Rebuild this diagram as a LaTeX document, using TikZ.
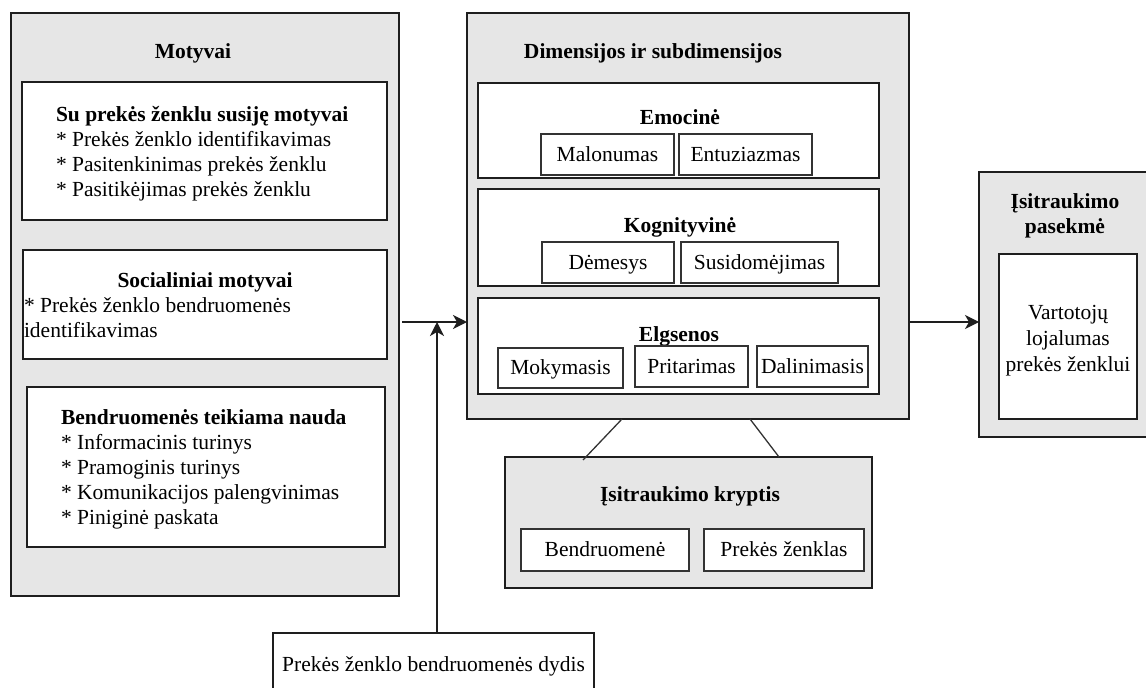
\documentclass[tikz,border=0pt]{standalone}
\usepackage{fontspec}
\setmainfont{Liberation Serif}
\usetikzlibrary{arrows.meta}
\definecolor{panelgray}{RGB}{230,230,230}
\definecolor{edge}{RGB}{30,30,30}
\begin{document}
\begin{tikzpicture}[x=1pt,y=-1pt,
  panel/.style={draw=edge,line width=1.4pt,fill=panelgray,inner sep=0pt,outer sep=0pt},
  box/.style={draw=edge,line width=1.4pt,fill=white,inner sep=0pt,outer sep=0pt},
  tag/.style={box,line width=1.3pt,draw=black!80,
    font=\fontsize{21.5}{25}\selectfont,text height=14pt,text depth=1pt},
  txt/.style={inner sep=0pt,outer sep=0pt,font=\fontsize{21.5}{25}\selectfont},
  line/.style={txt,text height=14pt,text depth=1pt},
  hd/.style={line,font=\fontsize{21.5}{25}\selectfont\bfseries},
  arr/.style={line width=1.4pt,draw=edge,-{Stealth[length=14pt,width=14pt,inset=4pt]}},
  link/.style={line width=1.3pt,draw=black!80}]
\useasboundingbox (0,0) rectangle (1146,688);

% ---- motives panel ----
\node[panel,minimum width=388pt,minimum height=583pt] (mot) at (205,304.5) {};
\node[hd] (motT) at (193,52) {Motyvai};

\node[box,minimum width=365pt,minimum height=138pt] (b1) at (204.5,151) {};
\node[txt,align=left,anchor=west] (b1t) at (56,153.5)
  {\textbf{Su prekės ženklu susiję motyvai}\\
   * Prekės ženklo identifikavimas\\
   * Pasitenkinimas prekės ženklu\\
   * Pasitikėjimas prekės ženklu};

\node[box,minimum width=364pt,minimum height=109pt] (b2) at (205,304.5) {};
\node[hd] (b2h) at (205,281) {Socialiniai motyvai};
\node[txt,align=left,anchor=west] (b2t) at (24,317.5)
  {* Prekės ženklo bendruomenės\\identifikavimas};

\node[box,minimum width=358pt,minimum height=160pt] (b3) at (206,467) {};
\node[txt,align=left,anchor=west] (b3t) at (61,469)
  {\textbf{Bendruomenės teikiama nauda}\\
   * Informacinis turinys\\
   * Pramoginis turinys\\
   * Komunikacijos palengvinimas\\
   * Piniginė paskata};

% ---- dimensions panel ----
\node[panel,minimum width=442pt,minimum height=406pt] (dim) at (688,216) {};
\node[hd] (dimT) at (653,52) {Dimensijos ir subdimensijos};

\node[box,minimum width=401pt,minimum height=95pt] (emo) at (678.5,130.5) {};
\node[hd] (emoT) at (680,118) {Emocinė};
\node[tag,minimum width=133pt,minimum height=41pt] (mal) at (607.5,154.5) {Malonumas};
\node[tag,minimum width=133pt,minimum height=41pt] (ent) at (745.5,154.5) {Entuziazmas};

\node[box,minimum width=401pt,minimum height=97pt] (kog) at (678.5,237.5) {};
\node[hd] (kogT) at (680,226) {Kognityvinė};
\node[tag,minimum width=132pt,minimum height=41pt] (dem) at (608,262.5) {Dėmesys};
\node[tag,minimum width=157pt,minimum height=41pt] (sus) at (759.5,262.5) {Susidomėjimas};

\node[box,minimum width=401pt,minimum height=96pt] (elg) at (678.5,346) {};
\node[hd] (elgT) at (679,335) {Elgsenos};
\node[tag,minimum width=125pt,minimum height=40pt] (mok) at (560.5,368) {Mokymasis};
\node[tag,minimum width=113pt,minimum height=41pt] (pri) at (691.5,366.5) {Pritarimas};
\node[tag,minimum width=111pt,minimum height=41pt] (dal) at (812.5,366.5) {Dalinimasis};

% ---- engagement direction ----
\node[panel,minimum width=367pt,minimum height=131pt] (kry) at (688.5,522.5) {};
\node[hd] (kryT) at (690,495) {Įsitraukimo kryptis};
\node[tag,minimum width=168pt,minimum height=42pt] (ben) at (605,550) {Bendruomenė};
\node[tag,minimum width=160pt,minimum height=42pt] (pzn) at (784,550) {Prekės ženklas};

% ---- outcome panel ----
\node[panel,minimum width=171pt,minimum height=265pt] (pas) at (1064.5,304.5) {};
\node[txt,font=\fontsize{21.5}{25}\selectfont\bfseries,align=center] (pasT) at (1065,216)
  {Įsitraukimo\\pasekmė};
\node[box,minimum width=138pt,minimum height=165pt] (voj) at (1068,336.5) {};
\node[txt,font=\fontsize{21.5}{26}\selectfont,align=center] (vojT) at (1068,340.5)
  {Vartotojų\\lojalumas\\prekės ženklui};

% ---- community size ----
\node[box,minimum width=321pt,minimum height=62pt] (bot) at (433.5,664) {};
\node[line] (botT) at (433.5,665) {Prekės ženklo bendruomenės dydis};

% ---- connectors ----
\coordinate (j) at (437,322);
\draw[arr] ([xshift=3pt]j -| mot.east) -- (j -| dim.west);
\draw[arr] (bot.north -| j) -- (j);
\draw[arr] (j -| dim.east) -- (j -| pas.west);
\draw[link] ([xshift=-66pt]dim.south) -- ([xshift=-105.5pt,yshift=-3pt]kry.north);
\draw[link] ([xshift=62pt]dim.south) -- ([xshift=90.5pt]kry.north);
\end{tikzpicture}
\end{document}
